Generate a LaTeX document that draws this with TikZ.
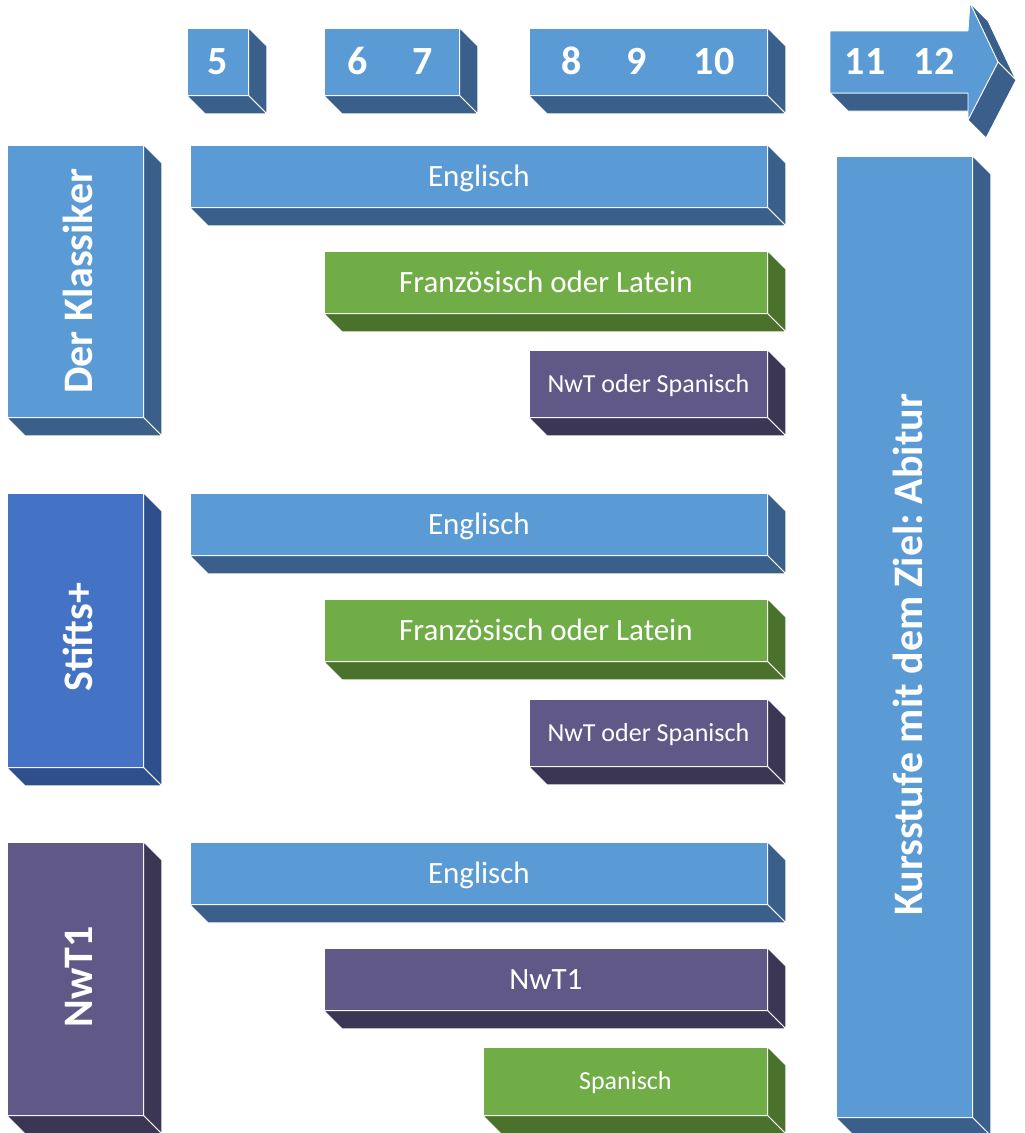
\documentclass[tikz,border=0pt]{standalone}
\usepackage{fontspec}
\setmainfont{Carlito}
\frenchspacing
\usetikzlibrary{calc}
\definecolor{blueF}{HTML}{5B9BD5}
\definecolor{blueS}{HTML}{3A5F8A}
\definecolor{royalF}{HTML}{4472C4}
\definecolor{royalS}{HTML}{2E4F8C}
\definecolor{greenF}{HTML}{70AD47}
\definecolor{greenS}{HTML}{4A722D}
\definecolor{purpleF}{HTML}{605987}
\definecolor{purpleS}{HTML}{3B3654}
\tikzset{
  face/.style={draw=white, line width=0.8pt, anchor=north west, inner sep=0pt, text=white,
    text depth=0pt},
  sideface/.style={draw=white, line width=0.8pt, line join=round},
  txt/.style={text=white, inner sep=0pt, text depth=0pt},
  big/.style={font=\fontsize{40}{44}\selectfont\bfseries, text height=26pt},
  vert/.style={font=\fontsize{42}{46}\selectfont\bfseries, text height=27pt, rotate=90},
  mid/.style={font=\fontsize{31}{36}\selectfont, text height=20pt},
  small/.style={font=\fontsize{26}{30}\selectfont, text height=16.7pt},
}
% #1 name, #2 x1, #3 y1, #4 x2, #5 y2, #6 colour prefix, #7 options, #8 text
\newcommand\cub[8]{%
  \node[face, fill=#6F, minimum width={#4pt-#2pt}, minimum height={#5pt-#3pt}, #7] (#1) at (#2,#3) {#8};
  \filldraw[sideface, fill=#6S] (#1.north east) -- ++(18,18) -- ($(#1.south east)+(18,18)$) -- (#1.south east) -- cycle;
  \filldraw[sideface, fill=#6S] (#1.south west) -- (#1.south east) -- ($(#1.south east)+(18,18)$) -- ($(#1.south west)+(18,18)$) -- cycle;
}
\begin{document}
\begin{tikzpicture}[x=1pt,y=-1pt]
\useasboundingbox (0,0) rectangle (1025,1133);

% header
\cub{h5}{187}{28}{248}{95}{blue}{}{}
\node[txt,big] (n5) at (217.5,61.5) {5};
\cub{h67}{324}{28}{459}{95}{blue}{}{}
\node[txt,big] (n6) at (358,61.5) {6};
\node[txt,big] (n7) at (423,61.5) {7};
\cub{h810}{529}{28}{767}{95}{blue}{}{}
\node[txt,big] (n8) at (572,61.5) {8};
\node[txt,big] (n9) at (636.5,61.5) {9};
\node[txt,big] (n10) at (714,61.5) {10};

% arrow
\filldraw[sideface, fill=blueS] (830,93) -- (968,93) -- (986,111) -- (848,111) -- cycle;
\filldraw[sideface, fill=blueS] (970,3) -- (998,62) -- (1016,80) -- (988,21) -- cycle;
\filldraw[sideface, fill=blueS] (998,62) -- (968,120) -- (986,138) -- (1016,80) -- cycle;
\filldraw[sideface, fill=blueF] (830,31) -- (968,31) -- (970,3) -- (998,62) -- (968,120) -- (968,93) -- (830,93) -- cycle;
\node[txt,big] (n11) at (865,61.5) {11};
\node[txt,big] (n12) at (934,61.5) {12};

% left boxes
\cub{klbox}{7}{145}{143}{417}{blue}{}{}
\node[txt,vert] (kl) at ($(klbox.center)+(4,0)$) {Der Klassiker};
\cub{stbox}{7}{493}{143}{767}{royal}{}{}
\node[txt,vert] (st) at ($(stbox.center)+(4,7)$) {Stifts+};
\cub{nwbox}{7}{842}{143}{1115}{purple}{}{}
\node[txt,vert] (nw) at ($(nwbox.center)+(4,-2)$) {NwT1};

% rows
\cub{eng1}{190}{145}{767}{207}{blue}{mid}{Englisch}
\cub{fr1}{324}{251}{767}{313}{green}{mid}{Französisch oder Latein}
\cub{ns1}{529}{350}{767}{417}{purple}{small}{NwT oder Spanisch}
\cub{eng2}{190}{493}{767}{555}{blue}{mid}{Englisch}
\cub{fr2}{324}{599}{767}{661}{green}{mid}{Französisch oder Latein}
\cub{ns2}{529}{699}{767}{766}{purple}{small}{NwT oder Spanisch}
\cub{eng3}{190}{842}{767}{904}{blue}{mid}{Englisch}
\cub{nwt}{324}{948}{767}{1010}{purple}{mid}{NwT1}
\cub{spa}{483}{1047}{767}{1115}{green}{small}{Spanisch}

% Kursstufe
\cub{kurs}{836}{156}{972}{1117}{blue}{}{}
\node[txt,vert] (ku) at ($(kurs.center)+(5,18)$) {Kursstufe mit dem Ziel: Abitur};
\end{tikzpicture}
\end{document}
